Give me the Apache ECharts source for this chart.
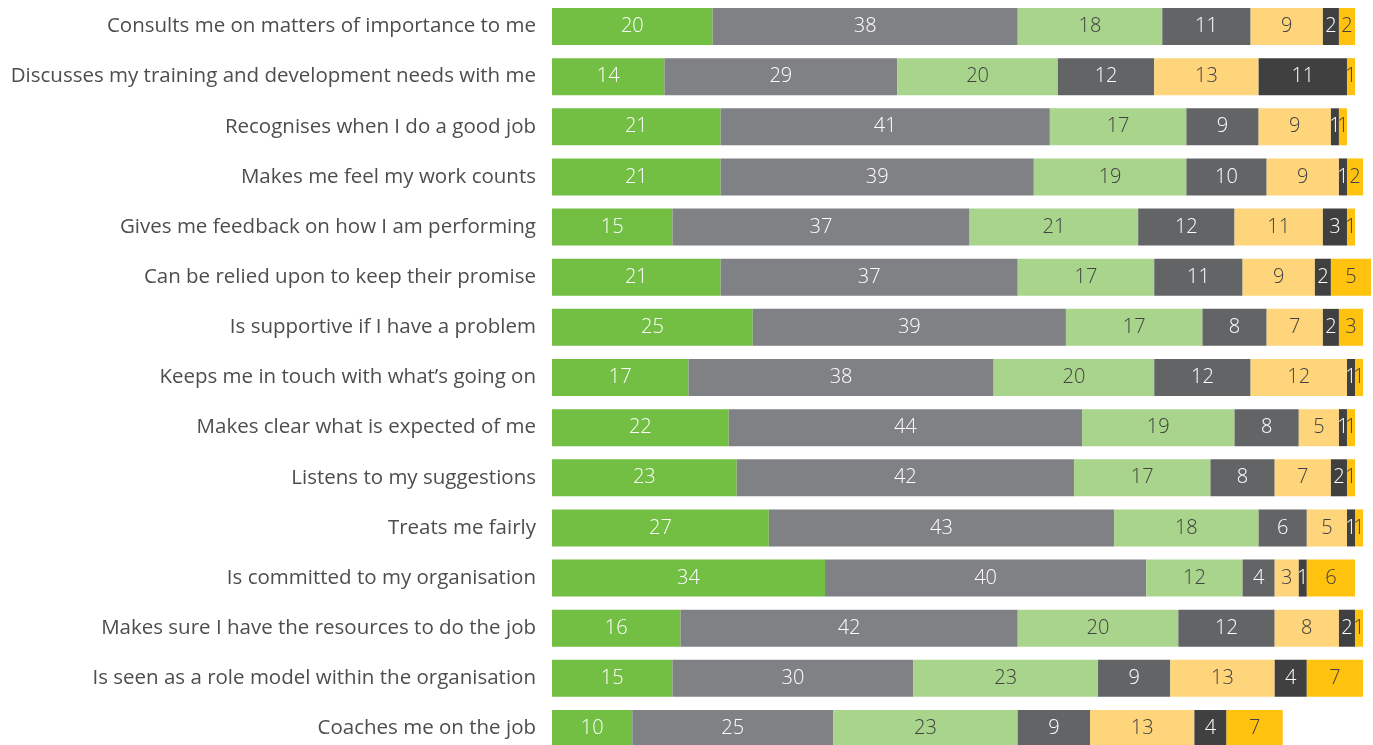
<!DOCTYPE html>
<html>
<head>
<meta charset="utf-8">
<script src="https://cdn.jsdelivr.net/npm/echarts@6/dist/echarts.min.js"></script>
<style>
  html, body { margin: 0; padding: 0; background: #fff; }
  #chart { width: 1373px; height: 745px; }
</style>
</head>
<body>
<div id="chart"></div>
<script>
const categories = [
  'Consults me on matters of importance to me',
  'Discusses my training and development needs with me',
  'Recognises when I do a good job',
  'Makes me feel my work counts',
  'Gives me feedback on how I am performing',
  'Can be relied upon to keep their promise',
  'Is supportive if I have a problem',
  'Keeps me in touch with what\u2019s going on',
  'Makes clear what is expected of me',
  'Listens to my suggestions',
  'Treats me fairly',
  'Is committed to my organisation',
  'Makes sure I have the resources to do the job',
  'Is seen as a role model within the organisation',
  'Coaches me on the job'
];

// Response shares (%) per statement, one array per answer band
const band1 = [20, 14, 21, 21, 15, 21, 25, 17, 22, 23, 27, 34, 16, 15, 10];
const band2 = [38, 29, 41, 39, 37, 37, 39, 38, 44, 42, 43, 40, 42, 30, 25];
const band3 = [18, 20, 17, 19, 21, 17, 17, 20, 19, 17, 18, 12, 20, 23, 23];
const band4 = [11, 12, 9, 10, 12, 11, 8, 12, 8, 8, 6, 4, 12, 9, 9];
const band5 = [9, 13, 9, 9, 11, 9, 7, 12, 5, 7, 5, 3, 8, 13, 13];
const band6 = [2, 11, 1, 1, 3, 2, 2, 1, 1, 2, 1, 1, 2, 4, 4];
const band7 = [2, 1, 1, 2, 1, 5, 3, 1, 1, 1, 1, 6, 1, 7, 7];

const bands = [
  { data: band1, color: '#72bf44', text: '#ffffff' },
  { data: band2, color: '#808184', text: '#ffffff' },
  { data: band3, color: '#a9d48b', text: '#414042' },
  { data: band4, color: '#636466', text: '#ffffff' },
  { data: band5, color: '#fed57b', text: '#414042' },
  { data: band6, color: '#404041', text: '#ffffff' },
  { data: band7, color: '#ffc20e', text: '#414042' }
];

const chart = echarts.init(document.getElementById('chart'), null, { renderer: 'canvas' });

// 100% spans 803px; rows that round above 100 run past the grid (clip off).
// Categories sit on the tick positions so the first and last bars touch the edges.
chart.setOption({
  animation: false,
  textStyle: { fontFamily: 'Open Sans' },
  grid: {
    left: 552, top: 26.5, width: 803, bottom: 16.5,
    containLabel: false,
    outerBoundsMode: 'none'
  },
  xAxis: {
    type: 'value', min: 0, max: 100,
    show: false
  },
  yAxis: {
    type: 'category',
    data: categories,
    inverse: true,
    boundaryGap: false,
    axisLine: { show: false },
    axisTick: { show: false },
    splitLine: { show: false },
    axisLabel: {
      margin: 16,
      fontSize: 20.5,
      color: '#4d4d4f',
      fontFamily: 'Open Sans'
    }
  },
  series: bands.map((b, i) => ({
    type: 'bar',
    stack: 'total',
    name: 'band' + (i + 1),
    data: b.data,
    barWidth: 37,
    clip: false,
    itemStyle: { color: b.color },
    label: {
      show: true,
      position: 'inside',
      offset: [0, 1],
      color: b.text,
      fontSize: 20,
      fontWeight: 300,
      fontFamily: 'Open Sans'
    },
    labelLayout: { hideOverlap: false }
  }))
});
</script>
</body>
</html>
